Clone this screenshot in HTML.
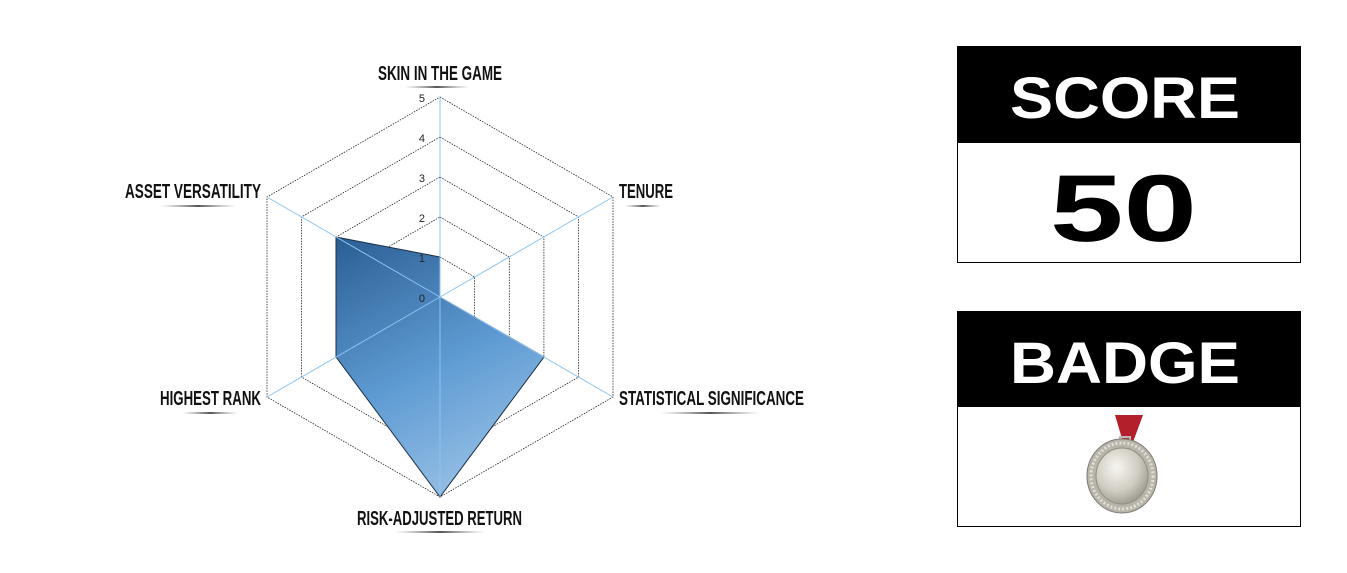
<!DOCTYPE html>
<html><head><meta charset="utf-8"><style>
html,body{margin:0;padding:0;background:#fff;}
svg{display:block}
.lbl{font-family:"Liberation Sans",sans-serif;font-weight:bold;font-size:20px;fill:#111;}
.tick{font-family:"Liberation Sans",sans-serif;font-size:11px;fill:#222;}
.big{font-family:"Liberation Sans",sans-serif;font-weight:bold;}
</style></head><body>
<svg width="1347" height="573" viewBox="0 0 1347 573" xmlns="http://www.w3.org/2000/svg">
<defs>
<linearGradient id="fillg" x1="0" y1="0" x2="0.4" y2="1">
<stop offset="0" stop-color="#2a5e93"/><stop offset="0.6" stop-color="#5f9bd3"/><stop offset="1" stop-color="#8fbbe3"/>
</linearGradient>
<radialGradient id="med" cx="0.4" cy="0.35" r="0.7">
<stop offset="0" stop-color="#f7f6f0"/><stop offset="0.6" stop-color="#cfccc2"/><stop offset="1" stop-color="#9a978d"/>
</radialGradient>
<linearGradient id="sh" x1="0" y1="0" x2="1" y2="0">
<stop offset="0" stop-color="#888" stop-opacity="0"/><stop offset="0.5" stop-color="#555"/><stop offset="1" stop-color="#888" stop-opacity="0"/>
</linearGradient>
</defs>
<g fill="none" stroke="#222" stroke-width="0.8" stroke-dasharray="1.5,1.2">
<polygon points="440,97 613,197 613,397 440,497 267,397 267,197"/>
<polygon points="440,137 578.6,217 578.6,377 440,457 301.4,377 301.4,217"/>
<polygon points="440,177 543.9,237 543.9,357 440,417 336.1,357 336.1,237"/>
<polygon points="440,217 509.3,257 509.3,337 440,377 370.7,337 370.7,257"/>
<polygon points="440,257 474.6,277 474.6,317 440,337 405.4,317 405.4,277"/>
</g>
<polygon points="440,257 440,297 544,357 440,497 336,357 336,237" fill="url(#fillg)" stroke="#1b2f45" stroke-width="1"/>
<g stroke="#8cc4f2" stroke-width="1">
<line x1="440" y1="297" x2="440" y2="97"/>
<line x1="440" y1="297" x2="613" y2="197"/>
<line x1="440" y1="297" x2="613" y2="397"/>
<line x1="440" y1="297" x2="440" y2="497"/>
<line x1="440" y1="297" x2="267" y2="397"/>
<line x1="440" y1="297" x2="267" y2="197"/>
</g>
<g class="tick" text-anchor="end">
<text x="425" y="102">5</text><text x="425" y="142">4</text><text x="425" y="182">3</text>
<text x="425" y="222">2</text><text x="425" y="262">1</text><text x="425" y="302">0</text>
</g>
<g class="lbl">
<text x="378" y="80" textLength="124" lengthAdjust="spacingAndGlyphs">SKIN IN THE GAME</text>
<rect x="405" y="86" width="64" height="2" fill="url(#sh)"/>
<text x="619" y="198" textLength="54" lengthAdjust="spacingAndGlyphs">TENURE</text>
<rect x="625" y="205" width="36" height="2" fill="url(#sh)"/>
<text x="619" y="405" textLength="185" lengthAdjust="spacingAndGlyphs">STATISTICAL SIGNIFICANCE</text>
<rect x="660" y="412" width="100" height="2" fill="url(#sh)"/>
<text x="357" y="525" textLength="165" lengthAdjust="spacingAndGlyphs">RISK-ADJUSTED RETURN</text>
<rect x="395" y="531" width="90" height="2" fill="url(#sh)"/>
<text x="160" y="405" textLength="101" lengthAdjust="spacingAndGlyphs">HIGHEST RANK</text>
<rect x="182" y="412" width="56" height="2" fill="url(#sh)"/>
<text x="125" y="198" textLength="136" lengthAdjust="spacingAndGlyphs">ASSET VERSATILITY</text>
<rect x="160" y="205" width="76" height="2" fill="url(#sh)"/>
</g>
<rect x="957.5" y="46.5" width="343" height="216" fill="#fff" stroke="#000"/>
<rect x="957" y="46" width="344" height="97" fill="#000"/>
<text class="big" x="1010" y="118" font-size="58" fill="#fff" textLength="230" lengthAdjust="spacingAndGlyphs">SCORE</text>
<text class="big" x="1050" y="241" font-size="95" fill="#000" textLength="147" lengthAdjust="spacingAndGlyphs">50</text>
<rect x="957.5" y="311.5" width="343" height="215" fill="#fff" stroke="#000"/>
<rect x="957" y="311" width="344" height="96" fill="#000"/>
<text class="big" x="1010" y="383" font-size="58" fill="#fff" textLength="230" lengthAdjust="spacingAndGlyphs">BADGE</text>
<polygon points="1115,415 1143,415 1133,442 1123,442" fill="#b3202c"/>
<rect x="1120" y="437" width="10" height="6" fill="none" stroke="#bbb" stroke-width="2"/>
<ellipse cx="1122" cy="476" rx="35" ry="37" fill="#b8b5ab" stroke="#7d7a72" stroke-width="1"/>
<ellipse cx="1122" cy="476" rx="31" ry="33" fill="none" stroke="#e2e0d8" stroke-width="3" stroke-dasharray="2,2"/>
<ellipse cx="1122" cy="476" rx="26" ry="28" fill="url(#med)" stroke="#8f8c84" stroke-width="1"/>
</svg>
</body></html>
